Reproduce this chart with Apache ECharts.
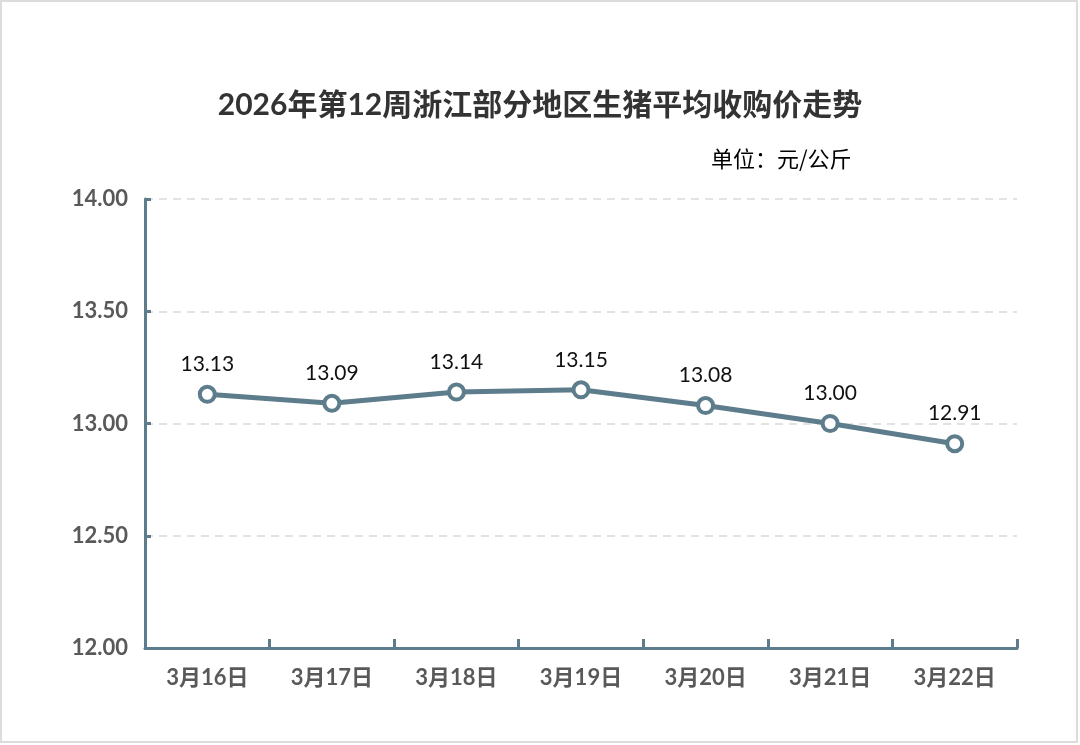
<!DOCTYPE html>
<html>
<head>
<meta charset="utf-8">
<script src="https://cdn.jsdelivr.net/npm/echarts@6/dist/echarts.min.js"></script>
<style>
html,body{margin:0;padding:0;background:#fff;}
#chart{width:1080px;height:745px;}
</style>
</head>
<body>
<div id="chart"></div>
<script>
const titleText = '2026年第12周浙江部分地区生猪平均收购价走势';
const unitText = '单位：元/公斤';
const categories = ['3月16日','3月17日','3月18日','3月19日','3月20日','3月21日','3月22日'];
const prices = [13.13, 13.09, 13.14, 13.15, 13.08, 13.00, 12.91];
const yTicks = [12, 12.5, 13, 13.5, 14];

const mainColor = '#5e7d8c';
const labelGray = '#595959';
const fontFam = 'Lato, "Noto Sans CJK SC", sans-serif';

const chart = echarts.init(document.getElementById('chart'), null, {renderer:'canvas'});
chart.setOption({
  animation: false,
  backgroundColor: '#ffffff',
  graphic: [{
    type: 'rect', silent: true,
    shape: {x: 1, y: 1, width: 1076, height: 741},
    style: {fill: 'none', stroke: '#dcdcdc', lineWidth: 2}
  }],
  title: [{
    text: titleText,
    left: 'center',
    top: 85,
    textStyle: {fontSize: 30, fontWeight: 'bold', color: '#333333', fontFamily: fontFam}
  }, {
    text: unitText,
    left: 706,
    top: 143,
    textStyle: {fontSize: 22, fontWeight: 'normal', color: '#000000', fontFamily: '"Noto Sans CJK SC", sans-serif'}
  }],
  grid: {left: 145, right: 63, top: 199, bottom: 97, containLabel: false},
  xAxis: {
    type: 'category',
    data: categories,
    boundaryGap: true,
    axisLine: {lineStyle: {color: mainColor, width: 3}},
    axisTick: {show: true, inside: true, length: 9, lineStyle: {color: mainColor, width: 3}},
    axisLabel: {margin: 19, fontSize: 22, fontWeight: 'bold', color: labelGray, fontFamily: fontFam},
    splitLine: {show: false}
  },
  yAxis: {
    type: 'value',
    min: yTicks[0],
    max: yTicks[yTicks.length - 1],
    interval: 0.5,
    axisLine: {show: true, lineStyle: {color: mainColor, width: 3}},
    axisTick: {show: true, inside: true, length: 6, lineStyle: {color: mainColor, width: 3}},
    axisLabel: {margin: 17, fontSize: 22, fontWeight: 'bold', color: labelGray, fontFamily: fontFam,
      formatter: v => v.toFixed(2)},
    splitLine: {show: true, lineStyle: {color: '#e3e3e3', type: [8, 6], width: 2}}
  },
  series: [{
    type: 'line',
    data: prices,
    symbol: 'circle',
    symbolSize: 15,
    lineStyle: {color: mainColor, width: 5},
    itemStyle: {color: '#ffffff', borderColor: mainColor, borderWidth: 4},
    label: {
      show: true, position: 'top', distance: 10,
      fontSize: 21, color: '#111111', fontFamily: fontFam,
      formatter: p => p.value.toFixed(2)
    },
    z: 5
  }]
});
</script>
</body>
</html>
